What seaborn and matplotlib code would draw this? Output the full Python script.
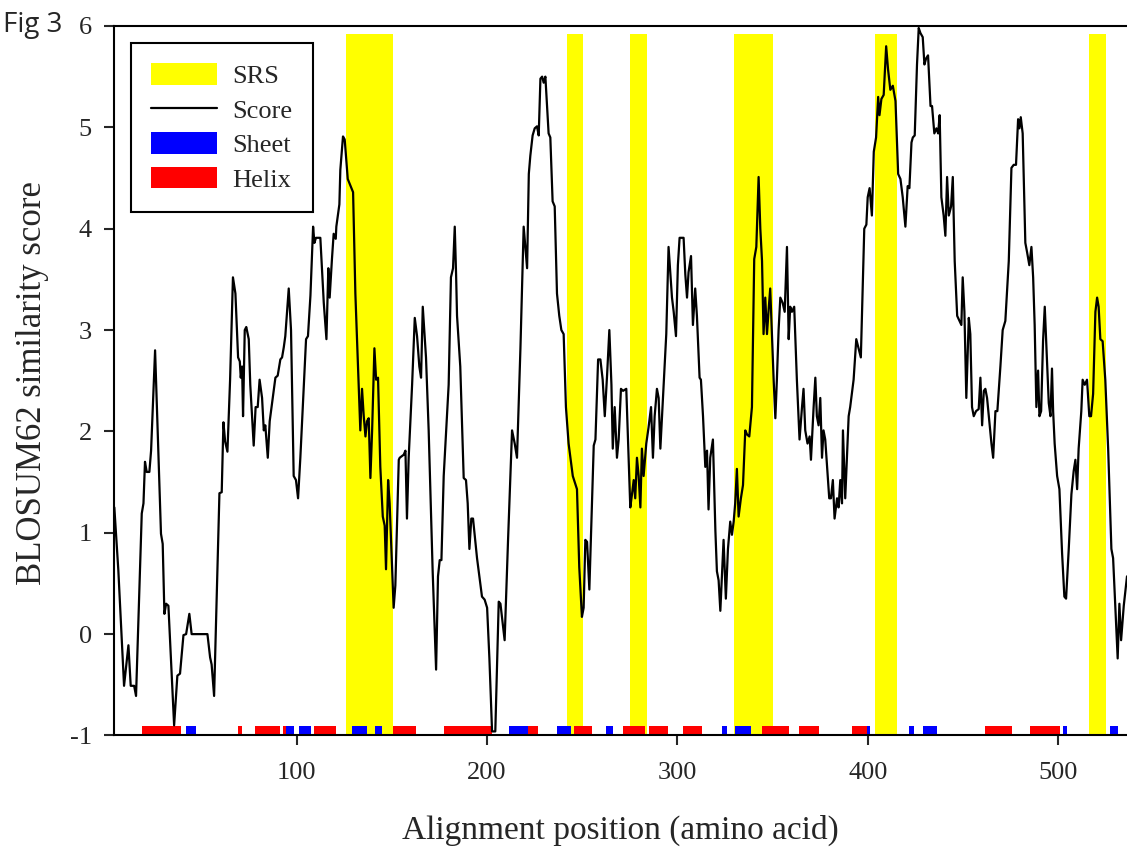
import matplotlib
matplotlib.use('Agg')
import matplotlib.pyplot as plt
from matplotlib.patches import Patch
from matplotlib.lines import Line2D
import seaborn as sns
import pandas as pd

# similarity score along the alignment
score_pos = [4.3, 6.4, 9.4, 11.7, 12.9, 14.7, 15.7, 18.7, 19.6, 20.4, 21.3, 22.7, 23.6, 25.7, 28.8, 29.7,
             30.6, 31.5, 32.7, 35.7, 37.4, 38.8, 40.6, 42.0, 43.7, 44.9, 53.2, 54.6, 55.4, 56.7, 59.5, 60.7,
             61.6, 62.5, 63.7, 65.1,
             66.6, 67.9, 69.3, 70.2, 70.7, 71.4, 71.9, 72.8, 73.6, 74.9, 75.7, 77.5, 78.5, 79.6, 80.6, 81.9,
             82.8, 83.6, 84.9, 85.9, 87.5, 88.9, 90.1, 91.5, 92.4, 93.3, 94.1, 95.9, 97.1, 98.5, 99.7, 100.8,
             102.0, 105.0, 106.0, 107.3, 108.7, 109.4, 110.2, 112.5, 114.3, 115.7, 116.7, 117.4, 118.6, 119.5,
             120.6, 120.9, 122.5, 123.0, 124.4, 125.3, 126.9, 128.6, 129.7, 130.9, 133.5,
             134.4, 135.3, 136.2, 137.0, 137.9, 138.8, 139.7, 140.9, 141.8, 142.8, 144.0, 145.3, 146.3, 147.0,
             148.1, 148.9, 151.0, 151.9, 153.7, 154.2, 156.3, 157.2, 158.0, 158.9, 160.7, 162.1, 163.3, 164.5,
             165.4, 166.3, 168.0, 169.4, 171.5, 173.3, 174.3, 175.2, 176.1, 177.3, 179.9, 181.1, 182.2, 183.1,
             183.8, 184.3, 186.0, 187.8, 189.0, 189.9, 190.8, 191.8, 192.7, 194.8, 195.7, 197.4, 198.8, 200.1,
             201.3, 202.7, 204.4, 206.2, 207.1, 209.3, 211.1, 213.2, 214.6, 215.8, 217.6, 219.3, 220.2, 221.1,
             222.0, 222.8, 224.0, 225.1, 226.3, 227.2, 228.1, 229.0, 229.8, 230.7, 232.4, 233.3, 234.5, 235.6,
             236.8, 238.0, 239.1, 240.3, 241.5, 242.9, 245.1, 247.3, 248.5, 249.9, 250.8, 251.7, 252.6, 253.8,
             256.1, 257.0, 258.4, 259.6, 260.8, 261.9, 263.1, 264.3, 265.4, 266.1, 267.1, 268.3,
             269.2, 270.4, 271.5, 273.2, 274.1, 275.3, 276.2, 277.1, 277.9, 278.8, 279.7, 280.6, 281.4, 282.3,
             283.7, 284.9, 286.2, 287.2, 288.1, 289.3, 290.2, 291.1, 292.8, 294.2, 295.4, 297.2, 298.1, 299.3,
             300.3, 301.2, 303.3, 304.2, 305.1, 305.9, 307.2, 308.2, 309.4, 310.3, 311.7, 312.4, 313.5, 314.7,
             315.6, 316.4, 317.3, 318.7, 320.0, 320.8, 321.7, 322.6, 323.4, 324.3, 325.5, 326.6, 327.8, 328.7,
             329.6, 330.4, 331.3, 332.2, 333.4, 334.5, 335.7, 336.6, 337.8, 339.2, 340.4, 341.5, 342.7, 343.6,
             344.5, 345.3, 346.2, 347.1, 348.0, 348.8, 349.7, 350.6, 351.5, 352.3, 353.2, 354.1, 355.3, 356.4,
             357.6, 358.5, 359.3, 360.2, 361.4, 362.8, 364.2, 365.5, 366.3, 367.2, 368.4, 369.5, 370.2, 371.6,
             372.5, 373.3, 374.2, 375.1, 376.0, 376.8, 377.7, 379.0, 379.8, 380.7, 381.7, 382.6, 383.9, 384.7,
             385.6, 386.5, 387.0, 388.2, 390.0, 390.8, 392.6, 394.0, 395.2, 396.4, 398.2, 399.3, 400.0, 401.0,
             402.2,
             403.2, 404.4, 405.5, 406.2, 407.2, 408.4, 409.7, 410.7, 411.9, 413.2, 414.6, 416.0, 417.2, 418.4,
             419.8, 421.0, 421.9, 423.0, 423.7, 424.7, 425.9, 426.8, 427.7, 428.9, 429.8, 430.7, 431.7, 433.0,
             433.8, 435.0, 436.1, 437.0, 437.8, 438.7, 439.9, 440.8, 441.7, 442.6, 443.8, 444.7, 445.7, 447.0,
             448.2, 449.2, 449.9, 450.8, 451.8, 453.1, 453.9, 454.8, 455.7, 456.9, 458.3, 459.2, 460.1, 461.0,
             461.8, 462.7, 463.6, 465.0, 465.9, 467.1, 468.1, 469.7, 470.9, 472.3, 474.1, 475.5, 476.7, 477.9,
             479.0, 479.7, 480.4, 481.4, 482.8, 483.7, 484.9, 486.0, 486.9, 487.7, 488.6, 489.5, 490.2, 491.1,
             492.1, 493.0, 493.7, 494.6, 495.1, 496.0, 496.8, 497.4, 498.2, 499.5, 500.7, 502.1, 503.3, 504.2,
             505.6, 507.0, 508.2, 509.1, 510.0, 510.8, 512.2, 512.9, 514.0, 515.2, 516.4, 517.3, 518.4, 519.6,
             520.5, 521.3, 522.2, 523.4, 524.8, 526.3, 528.0, 528.9, 530.1, 531.3, 532.2, 533.1, 534.5, 536.2]
score_val = [1.25, 0.63, -0.51, -0.11, -0.51, -0.51, -0.61, 1.19, 1.29, 1.70, 1.60, 1.60, 1.81, 2.80, 0.99, 0.89,
             0.20, 0.30, 0.28, -0.90, -0.41, -0.39, -0.01, 0.0, 0.20, 0.0, 0.0, -0.23, -0.30, -0.61, 1.39, 1.40,
             2.09, 1.90, 1.80, 2.51,
             3.52, 3.36, 2.73, 2.69, 2.53, 2.64, 2.15, 3.00, 3.03, 2.91, 2.46, 1.86, 2.24, 2.24, 2.51, 2.33,
             2.01, 2.06, 1.74, 2.10, 2.33, 2.53, 2.55, 2.71, 2.73, 2.83, 2.94, 3.41, 3.00, 1.56, 1.52, 1.34,
             1.74, 2.91, 2.94, 3.34, 4.02, 3.86, 3.91, 3.91, 3.27, 2.91, 3.61, 3.32, 3.70, 3.95,
             3.90, 4.02, 4.24, 4.58, 4.91, 4.88, 4.49, 4.41, 4.36, 3.36, 2.01,
             2.42, 2.15, 1.95, 2.10, 2.13, 1.54, 2.01, 2.82, 2.51, 2.53, 1.65, 1.16, 1.07, 0.64,
             1.52, 1.29, 0.26, 0.48, 1.72, 1.74, 1.77, 1.81, 1.14, 1.74, 2.46, 3.12, 2.94, 2.64,
             2.53, 3.23, 2.73, 2.01, 0.62, -0.35, 0.57, 0.73, 0.73, 1.56, 2.46, 3.52, 3.61, 4.02,
             3.55, 3.14, 2.64, 1.54, 1.52, 1.29, 0.84, 1.14, 1.14, 0.75, 0.62, 0.37, 0.34, 0.26,
             -0.24, -0.96, -0.96, 0.32, 0.30, -0.06, 0.93, 2.01, 1.88, 1.74, 2.82, 4.02, 3.82, 3.61,
             4.54, 4.72, 4.92, 4.99, 5.01, 4.92, 5.48, 5.50, 5.44, 5.50, 4.94, 4.90, 4.27, 4.22,
             3.36, 3.14, 3.00, 2.96, 2.24, 1.88, 1.56, 1.43, 0.66, 0.17, 0.26, 0.93, 0.91, 0.44,
             1.86, 1.92, 2.71, 2.71, 2.51, 2.15, 2.55, 3.00, 2.46, 1.83, 2.24, 1.74,
             1.92, 2.42, 2.40, 2.42, 1.92, 1.25, 1.38, 1.52, 1.34, 1.74, 1.56, 1.25, 1.83, 1.56,
             1.88, 2.04, 2.24, 1.74, 2.15, 2.42, 2.33, 1.83, 2.46, 2.96, 3.82, 3.32, 3.18, 2.94,
             3.64, 3.91, 3.91, 3.55, 3.32, 3.57, 3.73, 3.05, 3.41, 3.14, 2.53, 2.51, 2.15, 1.65,
             1.81, 1.23, 1.74, 1.92, 1.02, 0.62, 0.53, 0.23, 0.57, 0.93, 0.35, 0.84, 1.11, 0.98,
             1.11, 1.29, 1.63, 1.16, 1.34, 1.47, 2.01, 1.97, 1.95, 2.24, 3.70, 3.82, 4.51, 4.00,
             3.68, 2.96, 3.32, 2.96, 3.21, 3.41, 2.96, 2.51, 2.13, 2.51, 3.00, 3.32, 3.27, 3.18,
             3.82, 2.91, 3.23, 3.18, 3.23, 2.51, 1.92, 2.24, 2.42, 2.01, 1.88, 1.95, 1.72, 2.24,
             2.53, 2.15, 2.06, 2.33, 1.74, 2.01, 1.92, 1.56, 1.34, 1.34, 1.52, 1.14, 1.34, 1.25,
             1.52, 1.29, 2.01, 1.34, 2.15, 2.24, 2.51, 2.91, 2.82, 2.73, 4.00, 4.04, 4.31, 4.40,
             4.13,
             4.76, 4.90, 5.30, 5.12, 5.28, 5.32, 5.80, 5.57, 5.37, 5.41, 5.26, 4.54, 4.49, 4.31,
             4.02, 4.42, 4.40, 4.85, 4.90, 4.92, 5.62, 5.98, 5.93, 5.89, 5.62, 5.68, 5.71, 5.21,
             5.21, 4.94, 4.99, 4.94, 5.12, 4.31, 4.13, 3.93, 4.51, 4.13, 4.22, 4.51, 3.68, 3.14,
             3.09, 3.05, 3.52, 3.18, 2.33, 3.12, 2.96, 2.24, 2.15, 2.20, 2.22, 2.53, 2.06, 2.40,
             2.42, 2.33, 2.15, 1.88, 1.74, 2.20, 2.20, 2.64, 3.00, 3.09, 3.68, 4.60, 4.63, 4.63,
             5.08, 4.99, 5.10, 4.94, 3.86, 3.77, 3.64, 3.82, 3.52, 3.05, 2.24, 2.60, 2.15, 2.20,
             2.89, 3.23, 2.91, 2.51, 2.28, 2.15, 2.62, 2.20, 1.88, 1.56, 1.43, 0.80, 0.37, 0.35,
             0.84, 1.38, 1.61, 1.72, 1.43, 1.83, 2.20, 2.51, 2.46, 2.51, 2.15, 2.15, 2.37, 3.18,
             3.32, 3.23, 2.91, 2.89, 2.51, 1.83, 0.84, 0.75, 0.26, -0.24, 0.30, -0.06, 0.28, 0.57]

# substrate recognition sites (start, end)
srs_start = [126.0, 242.1, 275.2, 329.8, 403.8, 516.2]
srs_end = [150.7, 250.5, 284.1, 350.3, 415.3, 525.2]

# secondary structure (start, end)
helix_start = [18.7, 69.1, 78.2, 93.1, 109.3, 150.5, 177.5, 221.7, 245.7, 271.3, 285.3, 303.2,
               344.3, 364.1, 391.9, 461.6, 485.2]
helix_end = [39.3, 71.5, 91.5, 94.5, 120.7, 162.8, 202.5, 227.0, 255.0, 283.0, 295.0, 312.8,
             358.7, 374.6, 399.5, 475.9, 501.0]
sheet_start = [42.0, 94.5, 101.3, 129.3, 141.4, 211.6, 236.7, 262.6, 323.3, 330.1, 399.5, 421.8,
               428.9, 502.4, 527.3]
sheet_end = [47.4, 98.7, 107.6, 136.9, 144.7, 221.7, 244.0, 266.1, 325.9, 338.7, 401.2, 424.3,
             436.2, 504.8, 531.6]

score = pd.DataFrame({'pos': score_pos, 'score': score_val})

sns.set_style('ticks')
plt.rcParams['font.family'] = ['Liberation Serif', 'DejaVu Serif']
plt.rcParams['axes.unicode_minus'] = False

fig = plt.figure(figsize=(11.27, 8.57), dpi=100)
ax = fig.add_axes([0.1012, 0.1418, 0.8988, 0.8279])

base = -1
srs_top = 5.92
bar_h = 0.095

def spans(starts, ends, top, color, z):
    ax.bar(x=starts, height=top - base, width=[e - s for s, e in zip(starts, ends)],
           bottom=base, align='edge', color=color, linewidth=0, zorder=z)

spans(srs_start, srs_end, srs_top, '#ffff00', 1)
spans(helix_start, helix_end, base + bar_h, '#ff0000', 2)
spans(sheet_start, sheet_end, base + bar_h, '#0000ff', 2)

sns.lineplot(data=score, x='pos', y='score', color='black', linewidth=1.6, ax=ax, zorder=3)

ax.set_xlim(4.15, 536.2)
ax.set_ylim(-1, 6)
ax.set_xticks([100, 200, 300, 400, 500])
ax.set_yticks(range(-1, 7))
ax.tick_params(axis='both', direction='out', length=7, width=1.5, labelsize=19)
ax.tick_params(axis='x', pad=12)
ax.tick_params(axis='y', pad=9)
for side in ['left', 'bottom', 'top']:
    ax.spines[side].set_linewidth(1.5)
    ax.spines[side].set_color('black')
ax.spines['right'].set_visible(False)

ax.set_xlabel('Alignment position (amino acid)', fontsize=24)
ax.set_ylabel('BLOSUM62 similarity score', fontsize=25)
ax.xaxis.set_label_coords(0.5, -0.112)
ax.yaxis.set_label_coords(-0.064, 0.497)

handles = [Patch(facecolor='#ffff00', edgecolor='none', label='SRS'),
           Line2D([0], [0], color='black', lw=1.6, label='Score'),
           Patch(facecolor='#0000ff', edgecolor='none', label='Sheet'),
           Patch(facecolor='#ff0000', edgecolor='none', label='Helix')]
leg = ax.legend(handles=handles, loc='upper left', bbox_to_anchor=(0.0168, 0.976),
                borderaxespad=0, fontsize=19, handlelength=2.5, handleheight=0.87,
                labelspacing=0.37, handletextpad=0.57, borderpad=0.77, fancybox=False,
                framealpha=1, edgecolor='black')
leg.get_frame().set_linewidth(1.5)

fig.text(0.003, 0.987, 'Fig 3', ha='left', va='top', fontsize=20, family=['Open Sans', 'DejaVu Sans'])

fig.savefig('out.png', dpi=100)
